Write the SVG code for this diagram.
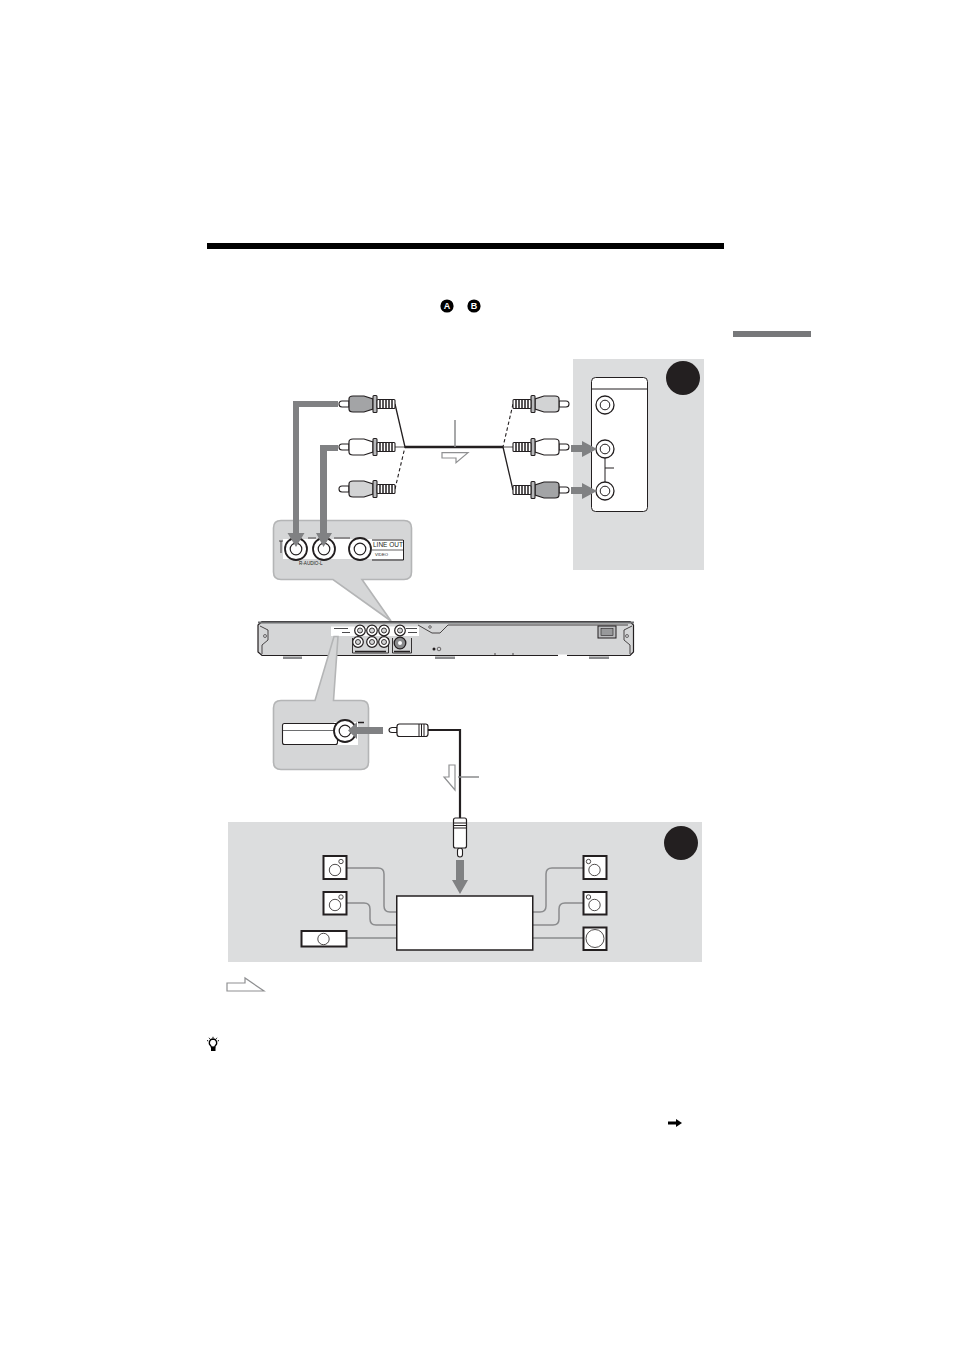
<svg xmlns="http://www.w3.org/2000/svg" width="954" height="1351" viewBox="0 0 954 1351">
<style>
.panel{fill:#dcddde}
.callout{fill:#d5d6d7;stroke:#b4b5b6;stroke-width:1.6}
.ink{stroke:#231f20;fill:none}
.spk{fill:#fff;stroke:#231f20;stroke-width:2}
.cone{fill:#fff;stroke:#231f20;stroke-width:.8}
.wire{fill:none;stroke:#8a8b8d;stroke-width:1.5}
.flow{fill:#808183}
.hollow{fill:#fff;stroke:#8f9092;stroke-width:1.2}
.lead{stroke:#8a8b8d;stroke-width:1.5;fill:none}
.tiny{font-family:"Liberation Sans",Arial,sans-serif;fill:#231f20}
</style>
<defs>
<g id="plug">
<path d="M10-3H3Q0-3 0 0Q0 3 3 3H10Z" fill="#fff" stroke="#231f20" stroke-width="1.100"/>
<path d="M10-5Q10-8 14-8H25L34-5V5L25 8H14Q10 8 10 5Z" stroke="#231f20" stroke-width="1.200"/>
<rect x="34" y="-8.500" width="4" height="17" rx="1" fill="#b8b9bb" stroke="#231f20" stroke-width="1.100"/>
<rect x="38" y="-4.500" width="18" height="9" rx="1" fill="#fff" stroke="#231f20" stroke-width="1.100"/>
<path d="M41-4.500V4.500M44-4.500V4.500M47-4.500V4.500M50-4.500V4.500M53-4.500V4.500" stroke="#231f20" stroke-width="1.500"/>
</g>
<g id="jack"><circle r="9" fill="#fff" stroke="#231f20" stroke-width="1.300"/><circle r="4.800" fill="#fff" stroke="#231f20" stroke-width="1"/></g>
<g id="bigjack"><circle r="11" fill="#fff" stroke="#231f20" stroke-width="1.800"/><circle r="5.800" fill="#fff" stroke="#231f20" stroke-width="1.200"/></g>
<g id="minijack"><circle r="5.300" fill="#fff" stroke="#231f20" stroke-width="1.200"/><circle r="2.500" fill="#d5d6d7" stroke="#231f20" stroke-width=".9"/></g>
</defs>

<g id="header">
<rect x="207" y="243" width="517" height="6" fill="#000"/>
<rect x="733" y="331" width="78" height="6" fill="#77787a"/>
<g id="ref-a"><circle cx="447" cy="306" r="6.600" fill="#000"/><text x="447" y="309.300" text-anchor="middle" font-size="9" font-weight="700" font-family="Liberation Sans,Arial,sans-serif" fill="#fff">A</text></g>
<g id="ref-b"><circle cx="474" cy="306" r="6.600" fill="#000"/><text x="474" y="309.300" text-anchor="middle" font-size="9" font-weight="700" font-family="Liberation Sans,Arial,sans-serif" fill="#fff">B</text></g>
</g>

<g id="panel-a">
<rect class="panel" x="573" y="359" width="131" height="211"/>
<circle cx="683" cy="378" r="17" fill="#231f20"/>
<rect x="591.500" y="377.500" width="56" height="134" rx="4" fill="#fff" stroke="#231f20" stroke-width="1"/>
<path class="ink" d="M591.500 389H647.500M605 455V485M605 468H614"/>
<use href="#jack" x="605" y="405"/><use href="#jack" x="605" y="449"/><use href="#jack" x="605" y="491"/>
</g>

<g id="panel-b">
<rect class="panel" x="228" y="822" width="474" height="140"/>
<circle cx="681" cy="843" r="17" fill="#231f20"/>
</g>

<g id="connectors">
<path class="ink" stroke-width="2.400" d="M405 447H503"/>
<path class="ink" stroke-width="1.300" d="M395 404L405 447M513 490L503 447"/>
<path class="ink" stroke-width=".8" d="M395 447H405M513 447H503"/>
<path class="ink" stroke-width="1.100" stroke-dasharray="3.500 2.500" d="M395 489L405 447M513 404L503 447"/>
<path class="lead" d="M455 420V447"/>
<path class="ink" stroke-width="2.200" d="M428 730H460V818"/>
<path class="lead" d="M458 777H479"/>
<path class="wire" d="M347 868H378Q384 868 384 874V906Q384 912 390 912H396"/>
<path class="wire" d="M347 903H364Q370 903 370 909V919Q370 925 376 925H396"/>
<path class="wire" d="M347 938H396"/>
<path class="wire" d="M533 912H540Q546 912 546 906V874Q546 868 552 868H583"/>
<path class="wire" d="M533 925H553Q559 925 559 919V909Q559 903 565 903H583"/>
<path class="wire" d="M533 938H583"/>
</g>

<g id="plugs-left">
<use href="#plug" transform="translate(339 404)" fill="#a3a4a6"/>
<use href="#plug" transform="translate(339 447)" fill="#fff"/>
<use href="#plug" transform="translate(339 489)" fill="#d2d3d4"/>
</g>
<g id="plugs-right">
<use href="#plug" transform="translate(569 404) scale(-1 1)" fill="#d2d3d4"/>
<use href="#plug" transform="translate(569 447) scale(-1 1)" fill="#fff"/>
<use href="#plug" transform="translate(569 490) scale(-1 1)" fill="#a3a4a6"/>
</g>
<path class="hollow" id="cable-dir-a" d="M442 452.700H468L456 462.700V458H442Z"/>

<g id="callout-top">
<path class="callout" d="M281 520.500H404Q411.500 520.500 411.500 528V572Q411.500 579.500 404 579.500H362L391 621L333 579.500H281Q273.500 579.500 273.500 572V528Q273.500 520.500 281 520.500Z"/>
<rect x="283" y="539" width="121" height="20" fill="#fff"/>
<path class="ink" stroke-width=".8" d="M281 541V553M279 541H283M308 538H316M334 538H350"/>
<path class="ink" stroke-width="1" d="M372 540H403.500V560H372"/>
<path class="ink" stroke-width=".7" d="M372 550H403"/>
<use href="#bigjack" x="296" y="549"/><use href="#bigjack" x="324" y="549"/><use href="#bigjack" x="360" y="549"/>
<text class="tiny" x="373" y="546.500" font-size="6.500">LINE OUT</text>
<text class="tiny" x="375" y="556" font-size="4.200">VIDEO</text>
<text class="tiny" x="299" y="565" font-size="4.600">R-AUDIO-L</text>
</g>

<g id="flow-arrows">
<path class="flow" d="M338 401V407H299V533H304.500L296 547L287.500 533H293V401Z"/>
<path class="flow" d="M338 445V451H327V533H332L323.500 547L316 533H320V445Z"/>
<path class="flow" d="M571 445H582V441L597 449L582 457V452H571Z"/>
<path class="flow" d="M571 487H582V483L597 491L582 499V494H571Z"/>
<path class="flow" d="M456 860H464V880H468L460 894L452 880H456Z"/>
</g>

<g id="player">
<path d="M262 621.500H630L633.500 625V652L630 655.500H262L258 652V625Z" fill="#d5d6d7" stroke="#231f20" stroke-width="1.200"/>
<path d="M258 622.500H634" stroke="#6d6e70" stroke-width="2"/>
<path d="M283 656.500h19v2.500h-19zM435 656.500h20v2.500h-20zM589 656.500h20v2.500h-20z" fill="#8a8b8d"/>
<path class="ink" stroke-width=".8" d="M260 626L268 630V640L262 645V654M632 626L624 630V640L630 645V654M418 625L432 633H440L448 625H628M495 653V656M513 653V656"/>
<path d="M558 655.500H567" stroke="#fff" stroke-width="2"/>
<rect x="331" y="626.500" width="88" height="9.500" fill="#fff"/>
<path d="M334 628.500H348M342 632.500H350M406 628.500H417M408 632.500H417" stroke="#4a4a4c" stroke-width="1.200"/>
<path class="ink" stroke-width=".9" d="M352.500 638V653H388.500V638M392.500 638V653H411.500V638"/>
<path d="M355 651.500H386M394 651.500H410" stroke="#231f20" stroke-width="1.300"/>
<use href="#minijack" x="360" y="630.500"/><use href="#minijack" x="372" y="630.500"/><use href="#minijack" x="384" y="630.500"/><use href="#minijack" x="400" y="630.500"/>
<use href="#minijack" x="358" y="642"/><use href="#minijack" x="372" y="642"/><use href="#minijack" x="384" y="642"/>
<circle cx="400" cy="643" r="5.800" fill="#8a8b8d" stroke="#231f20" stroke-width="1.300"/><circle cx="400" cy="643" r="2" fill="#fff"/>
<rect x="598" y="626" width="18" height="12" fill="#bbbcbe" stroke="#231f20" stroke-width="1"/>
<rect x="601" y="628.500" width="12" height="7" fill="#98999b" stroke="#231f20" stroke-width=".6"/>
<circle cx="434" cy="649" r="1.500" fill="#231f20"/><circle cx="439" cy="649" r="1.800" fill="none" stroke="#231f20" stroke-width=".6"/>
<circle cx="265" cy="636" r="1.500" fill="none" stroke="#231f20" stroke-width=".6"/><circle cx="627" cy="636" r="1.500" fill="none" stroke="#231f20" stroke-width=".6"/>
<circle cx="430" cy="627" r="1.300" fill="none" stroke="#231f20" stroke-width=".6"/>
</g>

<g id="callout-bottom">
<path class="callout" d="M281 700.500H315L334 636.500L338 636.500L333.500 700.500H361Q368.500 700.500 368.500 708V762Q368.500 769.500 361 769.500H281Q273.500 769.500 273.500 762V708Q273.500 700.500 281 700.500Z"/>
<rect x="334" y="722" width="24" height="23" fill="#fff"/>
<rect x="282.500" y="723.500" width="55" height="21" rx="2" fill="#fff" stroke="#231f20" stroke-width="1.100"/>
<path d="M283 730.500H334" stroke="#6d6e70" stroke-width="1.200"/>
<use href="#bigjack" x="345" y="731"/>
<path d="M358 722.500H364" stroke="#231f20" stroke-width="1.500"/>
<path class="flow" d="M383 727V734H357V739L348 730.500L357 722V727Z"/>
</g>

<g id="coax-h">
<path d="M397 727.500H392Q389 728 389 730Q389 732.500 392 732.500H397Z" fill="#fff" stroke="#231f20" stroke-width="1.100"/>
<rect x="397" y="724" width="31" height="12.500" rx="2.500" fill="#fff" stroke="#231f20" stroke-width="1.200"/>
<path class="ink" stroke-width="1" d="M419 724V736.500M421.500 724V736.500M424 724V736.500"/>
</g>
<path class="hollow" id="cable-dir-b" d="M449 765H455V790L444 777H449Z"/>
<g id="coax-v">
<rect x="457.500" y="848" width="5" height="9" rx="2.500" fill="#fff" stroke="#231f20" stroke-width="1.100"/>
<rect x="453.500" y="818" width="13" height="30" rx="2" fill="#fff" stroke="#231f20" stroke-width="1.200"/>
<path class="ink" stroke-width="1" d="M453.500 823H466.500M453.500 825.500H466.500M453.500 828H466.500"/>
</g>

<g id="receiver"><rect x="396.750" y="896" width="136" height="54" fill="#fff" stroke="#231f20" stroke-width="1.500"/></g>

<g id="speaker-l1"><rect class="spk" x="323.500" y="856" width="23" height="23"/><circle class="cone" cx="335" cy="870" r="5.700"/><circle class="cone" cx="341" cy="861.500" r="2.200"/></g>
<g id="speaker-l2"><rect class="spk" x="323.500" y="892" width="23" height="22.500"/><circle class="cone" cx="335" cy="905" r="5.700"/><circle class="cone" cx="341" cy="897" r="2.200"/></g>
<g id="speaker-center"><rect class="spk" x="301.500" y="931" width="45" height="15.500"/><circle class="cone" cx="323.500" cy="939" r="5.700"/></g>
<g id="speaker-r1"><rect class="spk" x="583.500" y="856" width="23" height="23"/><circle class="cone" cx="594.500" cy="870" r="5.700"/><circle class="cone" cx="588.500" cy="861.500" r="2.200"/></g>
<g id="speaker-r2"><rect class="spk" x="583.500" y="892" width="23" height="22.500"/><circle class="cone" cx="594.500" cy="905" r="5.700"/><circle class="cone" cx="588.500" cy="897" r="2.200"/></g>
<g id="subwoofer"><rect class="spk" x="583.500" y="927.500" width="23" height="22.500"/><circle class="cone" cx="595" cy="938.500" r="9"/></g>

<path class="hollow" id="legend-arrow" d="M227 983H245V978L264 991H227Z"/>

<g id="tip-icon">
<path d="M213 1039a3.800 3.800 0 0 0-2.200 6.800l.7 1.700h3l.7-1.700A3.800 3.800 0 0 0 213 1039Z" fill="#fff" stroke="#000" stroke-width="1.300"/>
<rect x="211" y="1046.500" width="4.500" height="4.500" fill="#000"/>
<path d="M213 1036.800v1.300M209 1037.800l.8 1M217 1037.800l-.8 1M207 1040.500l1.300.5M219 1040.500l-1.300.5" stroke="#000" stroke-width="1"/>
</g>
<path id="cont-arrow" d="M668 1121.500h8V1119l6 4-6 4v-2.500h-8Z" fill="#000"/>
</svg>
